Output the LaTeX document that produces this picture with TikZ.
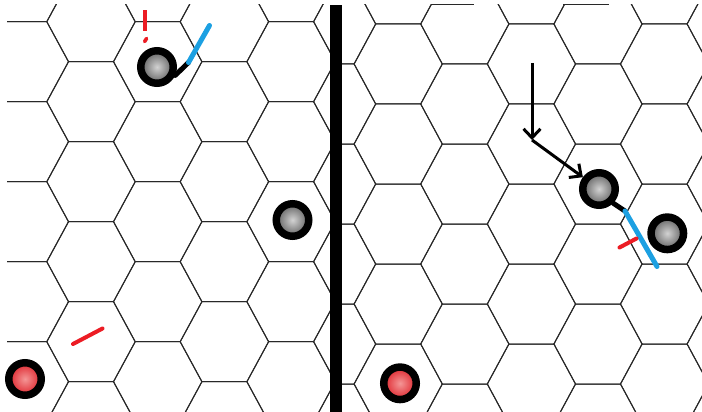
\documentclass[tikz,border=0pt]{standalone}
\usetikzlibrary{arrows.meta}
\definecolor{stickblue}{RGB}{28,160,226}
\definecolor{markred}{RGB}{236,28,36}
\definecolor{hexgray}{RGB}{40,40,40}
\tikzset{
  hexline/.style={draw=hexgray, line width=1pt},
  piece/.style={circle, draw=black, line width=7.5pt, minimum size=32.5pt, inner sep=0pt},
  greypiece/.style={piece, inner color=gray!35, outer color=gray!75!black},
  redpiece/.style={piece, inner color={rgb,255:red,244;green,150;blue,150}, outer color={rgb,255:red,222;green,36;blue,44}},
  stub/.style={draw=black, line width=5pt, line cap=round},
  stick/.style={draw=stickblue, line width=5pt, line cap=round},
  redmark/.style={draw=markred, line width=4pt, line cap=round},
  movearrow/.style={draw=black, line width=3pt, -{Straight Barb[length=9pt,width=17pt]}},
}
\newcommand{\hexcell}[4]{% cx, cy, half top edge, vertex offset
  \draw[hexline] ({#1-#3},{#2-40}) -- ({#1+#3},{#2-40}) -- ({#1+#4},{#2}) -- ({#1+#3},{#2+40}) -- ({#1-#3},{#2+40}) -- ({#1-#4},{#2}) -- cycle;}
\begin{document}
\begin{tikzpicture}[x=1pt,y=-1pt]
\useasboundingbox (0,0) rectangle (702,412);
\fill[white] (0,0) rectangle (702,412);
% left grid
\begin{scope}
  \clip (7,5) rectangle (330,412);
  \foreach \i in {-1,...,5}{
    \pgfmathsetmacro{\cx}{24.3+66.7*\i}
    \pgfmathsetmacro{\yo}{mod(\i+2,2)==0 ? 61.7 : 21.7}
    \foreach \k in {-1,...,5}{
      \pgfmathsetmacro{\cy}{\yo+80*\k}
      \hexcell{\cx}{\cy}{22.5}{44.2}
    }
  }
\end{scope}
% right grid
\begin{scope}
  \clip (342,5) rectangle (702,412);
  \foreach \j in {-1,...,5}{
    \pgfmathsetmacro{\cx}{398.2+66.6*\j}
    \pgfmathsetmacro{\yo}{mod(\j+2,2)==0 ? 64 : 24}
    \foreach \k in {-1,...,5}{
      \pgfmathsetmacro{\cy}{\yo+80*\k}
      \hexcell{\cx}{\cy}{22.5}{44.1}
    }
  }
  \draw[hexline] (431,5) -- (474,5);
  \draw[hexline] (563,5) -- (609,5);
\end{scope}
% divider bar
\fill[black] (330,5) rectangle (342,412);
% left panel pieces
\node[greypiece] (lp1) at (157,67) {};
\node[greypiece] (lp2) at (292.5,220) {};
\node[redpiece] (lr1) at (25,379) {};
\coordinate (ls1) at (188.5,62.5);
\coordinate (ls2) at (209.5,25.5);
\draw[stub] (lp1.-25) -- (ls1);
\draw[stick] (ls1) -- (ls2);
\coordinate (lm1) at (145,10.5);
\coordinate (lm2) at (145,31);
\draw[markred, line width=3.3pt] (lm1) -- (lm2);
\coordinate (ld1) at (144.6,41.6);
\coordinate (ld2) at (146.6,38.4);
\draw[markred, line width=3.6pt, line cap=round] (ld1) -- (ld2);
\coordinate (lr2a) at (73,344);
\coordinate (lr2b) at (102.5,328.5);
\draw[redmark] (lr2a) -- (lr2b);
% right panel pieces
\node[greypiece] (rp1) at (599,189) {};
\node[greypiece] (rp2) at (667.3,233.3) {};
\node[redpiece] (rr1) at (400,383.3) {};
\coordinate (rs1) at (625,211);
\coordinate (rs2) at (657,266.5);
\draw[stub] (rp1.-45) -- (rs1);
\draw[stick] (rs1) -- (rs2);
\coordinate (rm1) at (619.5,247.5);
\coordinate (rm2) at (636.5,238.5);
\draw[redmark] (rm1) -- (rm2);
% move arrows
\coordinate (a0) at (532,63);
\coordinate (a1) at (532,140);
\draw[movearrow] (a0) -- (a1);
\draw[movearrow] (a1) -- (rp1);
\end{tikzpicture}
\end{document}
